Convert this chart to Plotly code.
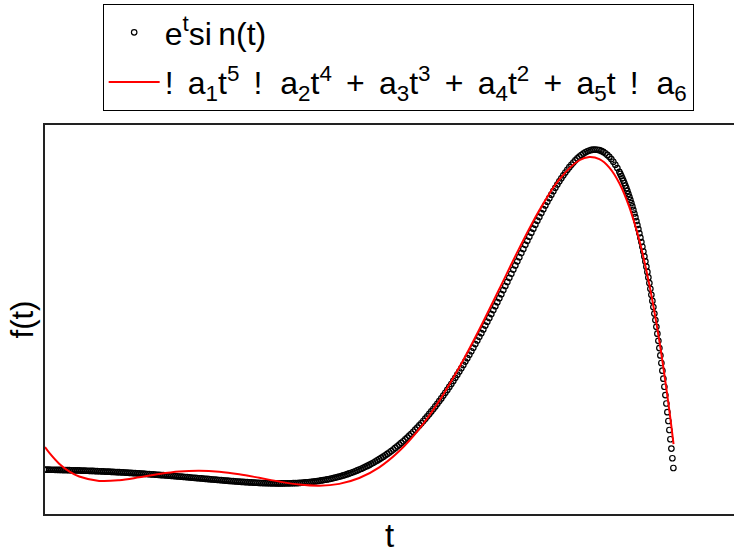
import plotly.graph_objects as go

T_A_START, T_A_STEP = -3.14, 0.02
F_A = [
    -0.000, -0.001, -0.002, -0.003, -0.004, -0.005, -0.006, -0.007, -0.008, -0.010,
    -0.011, -0.012, -0.013, -0.015, -0.016, -0.017, -0.019, -0.020, -0.022, -0.024,
    -0.025, -0.027, -0.029, -0.030, -0.032, -0.034, -0.036, -0.038, -0.041, -0.043,
    -0.045, -0.047, -0.049, -0.052, -0.054, -0.056, -0.059, -0.061, -0.064, -0.067,
    -0.069, -0.072, -0.075, -0.078, -0.081, -0.084, -0.087, -0.090, -0.093, -0.096,
    -0.099, -0.102, -0.106, -0.109, -0.113, -0.116, -0.120, -0.123, -0.127, -0.131,
    -0.134, -0.138, -0.142, -0.145, -0.149, -0.153, -0.157, -0.161, -0.165, -0.169,
    -0.173, -0.177, -0.181, -0.185, -0.190, -0.194, -0.198, -0.202, -0.206, -0.210,
    -0.214, -0.218, -0.223, -0.227, -0.231, -0.235, -0.239, -0.243, -0.247, -0.251,
    -0.255, -0.259, -0.263, -0.266, -0.270, -0.274, -0.277, -0.281, -0.284, -0.287,
    -0.290, -0.294, -0.297, -0.299, -0.302, -0.305, -0.307, -0.310, -0.312, -0.314,
    -0.315, -0.317, -0.318, -0.319, -0.320, -0.321, -0.322, -0.322, -0.322, -0.322,
    -0.321, -0.321, -0.320, -0.318, -0.317, -0.315, -0.313, -0.310, -0.307, -0.303,
    -0.299, -0.295, -0.291, -0.286, -0.280, -0.274, -0.268, -0.261, -0.253, -0.245,
    -0.237, -0.228, -0.219, -0.209, -0.198, -0.187, -0.175, -0.163, -0.150, -0.136,
    -0.122, -0.106, -0.090, -0.074, -0.056, -0.038, -0.020, 0.000, 0.020, 0.042,
    0.064, 0.086, 0.110, 0.135, 0.160, 0.187, 0.214, 0.243, 0.272, 0.302,
    0.333, 0.366, 0.399, 0.433, 0.469, 0.505, 0.542, 0.581, 0.621, 0.661,
    0.703, 0.746, 0.790, 0.836, 0.882, 0.930, 0.979, 1.029, 1.080, 1.133,
    1.186, 1.241, 1.297, 1.355, 1.413, 1.473, 1.534, 1.597, 1.660, 1.725,
    1.791, 1.858, 1.927, 1.996, 2.067, 2.140, 2.213, 2.287, 2.363, 2.440,
    2.518, 2.597, 2.677, 2.759, 2.841, 2.925, 3.009, 3.094, 3.181, 3.268,
    3.357, 3.446, 3.536, 3.626, 3.718, 3.810, 3.903, 3.996, 4.090, 4.185,
    4.280, 4.375, 4.470, 4.566, 4.662, 4.759, 4.855, 4.951, 5.047, 5.143,
    5.239, 5.334, 5.428, 5.522, 5.616, 5.709, 5.802, 5.891, 5.981, 6.070,
    6.158, 6.244, 6.327, 6.409, 6.490, 6.569, 6.646, 6.719, 6.791, 6.860,
    6.926, 6.990, 7.049, 7.106, 7.159, 7.209, 7.255, 7.297, 7.334, 7.367,
    7.396, 7.419, 7.438, 7.451, 7.459, 7.460, 7.456, 7.446, 7.429, 7.405,
    7.374, 7.336, 7.291, 7.238, 7.176, 7.106, 7.028, 6.941,
]
T_B_START, T_B_STEP = 2.61, 0.01
F_B = [
    6.893, 6.844, 6.792, 6.738, 6.681, 6.622, 6.560, 6.496, 6.429, 6.359,
    6.287, 6.212, 6.134, 6.054, 5.970, 5.884, 5.795, 5.702, 5.607, 5.509,
    5.407, 5.303, 5.195, 5.084, 4.970, 4.852, 4.731, 4.607, 4.479, 4.348,
    4.213, 4.075, 3.933, 3.788, 3.638, 3.485, 3.328, 3.168, 3.003, 2.834,
    2.662, 2.485, 2.305, 2.120, 1.931, 1.738, 1.541, 1.339, 1.133, 0.923,
    0.708, 0.489, 0.265, 0.037,
]

# fitted 5th-degree polynomial curve, sampled values
FIT_T = [-3.1416, -3.1, -3.0, -2.9, -2.8, -2.6, -2.4, -2.2, -2.0, -1.8, -1.6, -1.4,
         -1.2, -1.0, -0.8, -0.6, -0.4, -0.2, 0.0, 0.2, 0.4, 0.6, 0.8, 1.0, 1.2, 1.4,
         1.6, 1.8, 2.0, 2.2, 2.3, 2.4, 2.5, 2.6, 2.7, 2.8, 2.9, 3.0, 3.1, 3.1416]
FIT_V = [0.525, 0.395, 0.139, -0.041, -0.161, -0.263, -0.248, -0.180, -0.102, -0.045,
         -0.026, -0.049, -0.108, -0.191, -0.279, -0.349, -0.376, -0.333, -0.197, 0.053,
         0.433, 0.950, 1.605, 2.385, 3.267, 4.211, 5.162, 6.045, 6.767, 7.211, 7.286,
         7.237, 7.041, 6.676, 6.118, 5.338, 4.307, 2.995, 1.370, 0.594]

SP = "\u00a0\u2006"          # one widened gap
SP2 = "\u00a0\u00a0"         # double gap
DATA_NAME = "e<sup>t</sup>si\u2009n(t)"
FIT_NAME = ("!" + SP + "a<sub>1</sub>t<sup>5</sup>" + SP + "!" + SP2 + "a<sub>2</sub>t<sup>4</sup>"
            + SP + "+" + SP + "a<sub>3</sub>t<sup>3</sup>" + SP + "+" + SP + "a<sub>4</sub>t<sup>2</sup>"
            + SP + "+" + SP + "a<sub>5</sub>t" + SP + "!" + SP2 + "a<sub>6</sub>")
X_TITLE = "t"
Y_TITLE = "f(t)"
X_RANGE = [-3.1416, 3.746]
Y_RANGE = [-1.035, 8.033]

t_data = [round(T_A_START + i * T_A_STEP, 2) for i in range(len(F_A))] + \
         [round(T_B_START + i * T_B_STEP, 2) for i in range(len(F_B))]
f_data = F_A + F_B

FONT = "Arial, Liberation Sans, sans-serif"

fig = go.Figure()
fig.add_trace(go.Scatter(
    x=t_data, y=f_data, mode="markers", name=DATA_NAME, legendgroup="a",
    marker=dict(symbol="circle-open", size=5.5, color="black",
                line=dict(width=1.2, color="black")),
))
fig.add_trace(go.Scatter(
    x=FIT_T, y=FIT_V, mode="lines", name=FIT_NAME, legendgroup="b",
    line=dict(color="#ff0000", width=2, shape="spline"),
))

fig.update_layout(
    width=734, height=554,
    margin=dict(l=45, r=0, t=125, b=40, autoexpand=False),
    paper_bgcolor="white", plot_bgcolor="white",
    font=dict(family=FONT, color="black", size=32),
    showlegend=True,
    legend=dict(
        x=0.0837, y=1.311, xanchor="left", yanchor="top",
        bordercolor="black", borderwidth=1, bgcolor="white",
        font=dict(family=FONT, size=32, color="black"),
        traceorder="grouped", tracegroupgap=5, itemwidth=51,
    ),
)
fig.update_xaxes(
    range=X_RANGE, showline=True, linecolor="#222222", linewidth=2, mirror=True,
    showgrid=False, zeroline=False, showticklabels=False, ticks="", automargin=False,
    title=dict(text=X_TITLE, font=dict(family=FONT, size=33), standoff=25),
)
fig.update_yaxes(
    range=Y_RANGE, showline=True, linecolor="#222222", linewidth=2, mirror=False,
    showgrid=False, zeroline=False, showticklabels=False, ticks="", automargin=False,
    title=dict(text=Y_TITLE, font=dict(family=FONT, size=31), standoff=0),
)

fig.write_html("out.html")
